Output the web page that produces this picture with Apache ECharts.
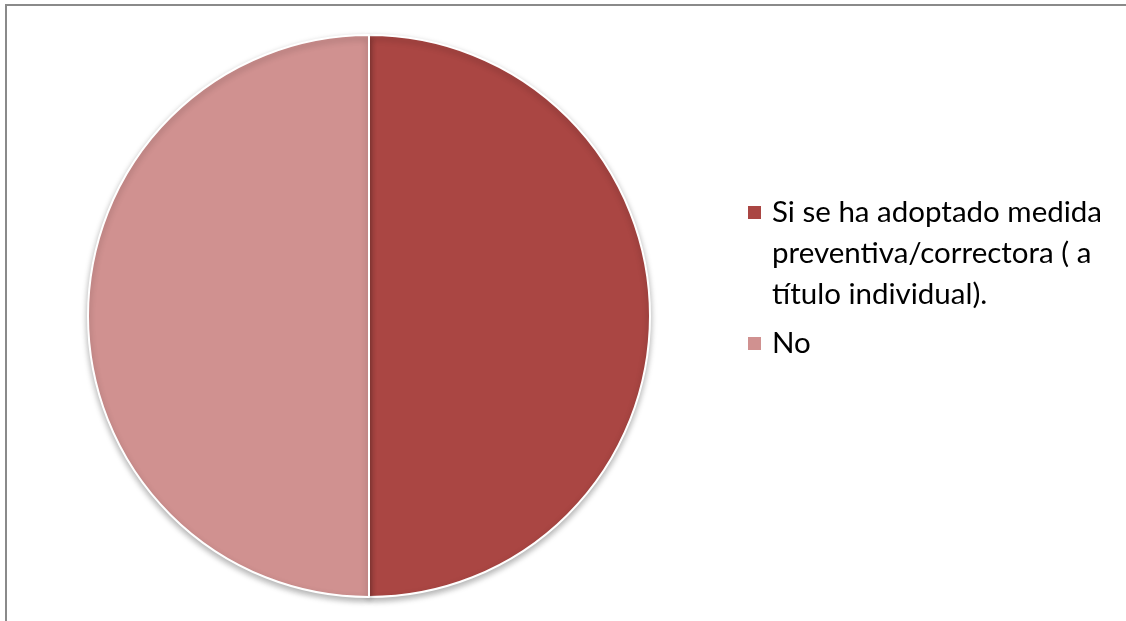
<!DOCTYPE html>
<html><head><meta charset="utf-8">
<script src="https://cdn.jsdelivr.net/npm/echarts@6/dist/echarts.min.js"></script>
<style>html,body{margin:0;padding:0;background:#fff}#c{width:1126px;height:621px}</style>
</head><body><div id="c"></div>
<script>
const categories = ['Si se ha adoptado medida preventiva/correctora ( a título individual).', 'No'];
const legendLines = [['Si se ha adoptado medida', 'preventiva/correctora ( a', 'título individual).'], ['No']];
const values = [50, 50];
const colors = ['#AA4643', '#D09190'];

const chart = echarts.init(document.getElementById('c'));
const rich = {
  sq0: {width: 13, height: 13, backgroundColor: colors[0]},
  sq1: {width: 13, height: 13, backgroundColor: colors[1]},
  b: {width: 13, height: 13},
  g: {width: 11},
  t: {fontFamily: 'Lato', fontSize: 29.5, color: '#000', lineHeight: 41}
};
function fmt(i) {
  return legendLines[i].map((l, k) => (k === 0 ? '{sq' + i + '|}' : '{b|}') + '{g|}{t|' + l + '}').join('\n');
}
const base = {orient: 'vertical', left: 742, padding: 0, itemWidth: 0, itemHeight: 0, itemGap: 0, icon: 'rect',
  itemStyle: {opacity: 0}, selectedMode: false, textStyle: {lineHeight: 41, rich: rich}};
chart.setOption({
  animation: false,
  graphic: [{type: 'rect', shape: {x: 6, y: 5, width: 1300, height: 800}, style: {fill: 'none', stroke: '#8a8a8a', lineWidth: 2}}],
  legend: [
    Object.assign({}, base, {data: [categories[0]], top: 192, formatter: () => fmt(0)}),
    Object.assign({}, base, {data: [categories[1]], top: 323, formatter: () => fmt(1)})
  ],
  series: [{
    type: 'pie', center: [369, 316], radius: 281, startAngle: 90, clockwise: true,
    label: {show: false}, labelLine: {show: false},
    itemStyle: {borderColor: '#fff', borderWidth: 2, shadowColor: 'rgba(0,0,0,0.3)', shadowBlur: 6, shadowOffsetY: 3},
    data: categories.map((n, i) => ({name: n, value: values[i], itemStyle: {color: colors[i]}}))
  }]
});
</script></body></html>
